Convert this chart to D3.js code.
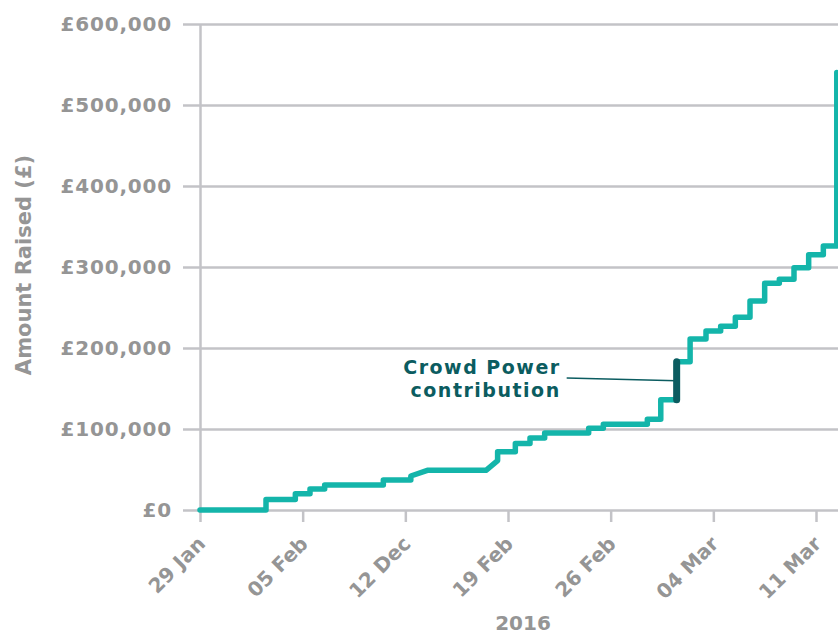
<!DOCTYPE html>
<html>
<head>
<meta charset="utf-8">
<script src="https://cdn.jsdelivr.net/npm/d3@7"></script>
<style>
  html, body { margin: 0; padding: 0; background: #ffffff; }
  svg { display: block; }
  text { font-family: "DejaVu Sans", sans-serif; font-weight: bold; }
</style>
</head>
<body>
<svg id="chart" width="838" height="636"></svg>
<script>
// ---- Data ----
const pointTimes = [
  "2016-01-29T00:00", "2016-02-02T12:00", "2016-02-02T12:00", "2016-02-04T12:00",
  "2016-02-04T12:00", "2016-02-05T12:00", "2016-02-05T12:00", "2016-02-06T12:00",
  "2016-02-06T12:00", "2016-02-10T12:00", "2016-02-10T12:00", "2016-02-12T09:00",
  "2016-02-12T09:00", "2016-02-13T12:00", "2016-02-17T12:00", "2016-02-18T07:00",
  "2016-02-18T07:00", "2016-02-19T12:00", "2016-02-19T12:00", "2016-02-20T12:00",
  "2016-02-20T12:00", "2016-02-21T12:00", "2016-02-21T12:00", "2016-02-24T12:00",
  "2016-02-24T12:00", "2016-02-25T12:00", "2016-02-25T12:00", "2016-02-28T12:00",
  "2016-02-28T12:00", "2016-02-29T10:00", "2016-02-29T10:00", "2016-03-01T12:00",
  "2016-03-01T12:00", "2016-03-02T10:00", "2016-03-02T10:00", "2016-03-03T12:00",
  "2016-03-03T12:00", "2016-03-04T12:00", "2016-03-04T12:00", "2016-03-05T12:00",
  "2016-03-05T12:00", "2016-03-06T12:00", "2016-03-06T12:00", "2016-03-07T12:00",
  "2016-03-07T12:00", "2016-03-08T12:00", "2016-03-08T12:00", "2016-03-09T12:00",
  "2016-03-09T12:00", "2016-03-10T12:00", "2016-03-10T12:00", "2016-03-11T12:00",
  "2016-03-11T12:00", "2016-03-12T10:00", "2016-03-12T10:00"
];
const pointAmounts = [
  0, 0, 13000, 13000,
  20000, 20000, 26000, 26000,
  31000, 31000, 37000, 37000,
  42000, 49000, 49000, 61000,
  72000, 72000, 82000, 82000,
  89000, 89000, 95000, 95000,
  101000, 101000, 106000, 106000,
  112000, 112000, 136000, 136000,
  183000, 183000, 211000, 211000,
  221000, 221000, 227000, 227000,
  238000, 238000, 258000, 258000,
  280000, 280000, 285000, 285000,
  299000, 299000, 315000, 315000,
  326000, 326000, 540000
];
const crowdPowerTime = "2016-03-01T12:00";
const crowdPowerFrom = 136000;
const crowdPowerTo = 183000;
const annotationLines = ["Crowd Power", "contribution"];
const annotationStart = { time: "2016-02-23T00:00", amount: 163000 };
const annotationEnd = { time: "2016-03-01T12:00", amount: 159500 };

const xTickDates = ["2016-01-29", "2016-02-05", "2016-02-12", "2016-02-19", "2016-02-26", "2016-03-04", "2016-03-11"];
const xTickLabels = ["29 Jan", "05 Feb", "12 Dec", "19 Feb", "26 Feb", "04 Mar", "11 Mar"];
const yTickValues = [0, 100000, 200000, 300000, 400000, 500000, 600000];
const xDomain = ["2016-01-29T00:00", "2016-03-12T12:00"];
const yDomain = [0, 600000];
const xAxisTitle = "2016";
const yAxisTitle = "Amount Raised (£)";

(function () {
// ---- Layout ----
const svg = d3.select("#chart");
const mLeft = 200, mRight = 838, mTop = 24, mBottom = 510;
const gridColor = "#c3c3c7";
const labelColor = "#959595";
const teal = "#14b5aa";
const dark = "#0b5c60";

const parse = d3.utcParse("%Y-%m-%dT%H:%M");
const parseDay = d3.utcParse("%Y-%m-%d");

const x = d3.scaleUtc().domain(xDomain.map(parse)).range([mLeft, mRight]);
const y = d3.scaleLinear().domain(yDomain).range([mBottom, mTop]);

// Gridlines (with the short left tick)
const grid = svg.append("g").attr("transform", `translate(${mRight},0)`)
  .call(d3.axisLeft(y).tickValues(yTickValues).tickSize(mRight - mLeft + 17).tickFormat(""));
grid.select(".domain").remove();
grid.selectAll(".tick line").attr("stroke", gridColor).attr("stroke-width", 2.5);

// Y axis labels
const yAxis = svg.append("g").attr("transform", `translate(${mLeft},0)`)
  .call(d3.axisLeft(y).tickValues(yTickValues).tickSize(0).tickSizeOuter(0).tickPadding(28)
    .tickFormat(d => "£" + d3.format(",")(d)));
yAxis.select(".domain").attr("stroke", gridColor).attr("stroke-width", 2.5);
yAxis.selectAll(".tick text")
  .attr("fill", labelColor).style("font-size", "20px").style("letter-spacing", "0.8px")
  .style("font-family", "'DejaVu Sans', sans-serif").style("font-weight", "bold");

// X axis
const xTicks = xTickDates.map(parseDay);
const xAxis = svg.append("g").attr("transform", `translate(0,${mBottom})`)
  .call(d3.axisBottom(x).tickValues(xTicks).tickSize(12)
    .tickFormat((d, i) => xTickLabels[i]));
xAxis.select(".domain").remove();
xAxis.selectAll(".tick line").attr("stroke", gridColor).attr("stroke-width", 2.5);
xAxis.selectAll(".tick text")
  .attr("fill", labelColor).attr("text-anchor", "end").attr("dy", null).attr("y", null)
  .attr("transform", "translate(6,35) rotate(-45)")
  .style("font-size", "20px")
  .style("font-family", "'DejaVu Sans', sans-serif").style("font-weight", "bold");

// Axis titles
svg.append("text")
  .attr("x", (mLeft + mRight) / 2 + 4).attr("y", 630)
  .attr("text-anchor", "middle").attr("fill", labelColor)
  .style("font-size", "20px").text(xAxisTitle);

svg.append("text")
  .attr("transform", `translate(31,${(mTop + mBottom) / 2 - 2}) rotate(-90)`)
  .attr("text-anchor", "middle").attr("fill", labelColor)
  .style("font-size", "21px").text(yAxisTitle);

// Cumulative line
const pts = pointTimes.map((t, i) => ({ t: parse(t), v: pointAmounts[i] }));
const line = d3.line().x(d => x(d.t)).y(d => y(d.v)).curve(d3.curveLinear);
svg.append("path").datum(pts)
  .attr("d", line)
  .attr("fill", "none").attr("stroke", teal).attr("stroke-width", 5.5)
  .attr("stroke-linejoin", "round").attr("stroke-linecap", "round");

// Crowd power segment
const cpT = parse(crowdPowerTime);
svg.append("line")
  .attr("x1", x(cpT)).attr("x2", x(cpT))
  .attr("y1", y(crowdPowerFrom)).attr("y2", y(crowdPowerTo))
  .attr("stroke", dark).attr("stroke-width", 7).attr("stroke-linecap", "round");

// Annotation connector
const ax1 = x(parse(annotationStart.time)), ay1 = y(annotationStart.amount);
const ax2 = x(parse(annotationEnd.time)), ay2 = y(annotationEnd.amount);
svg.append("line")
  .attr("x1", ax1).attr("y1", ay1).attr("x2", ax2).attr("y2", ay2)
  .attr("stroke", dark).attr("stroke-width", 1.6);

annotationLines.forEach((s, i) => {
  svg.append("text")
    .attr("text-anchor", "end").attr("fill", dark)
    .style("font-size", "19px").style("letter-spacing", "1.5px")
    .attr("x", ax1 - 6).attr("y", ay1 - 4 + i * 23).text(s);
});
})();
</script>
</body>
</html>
